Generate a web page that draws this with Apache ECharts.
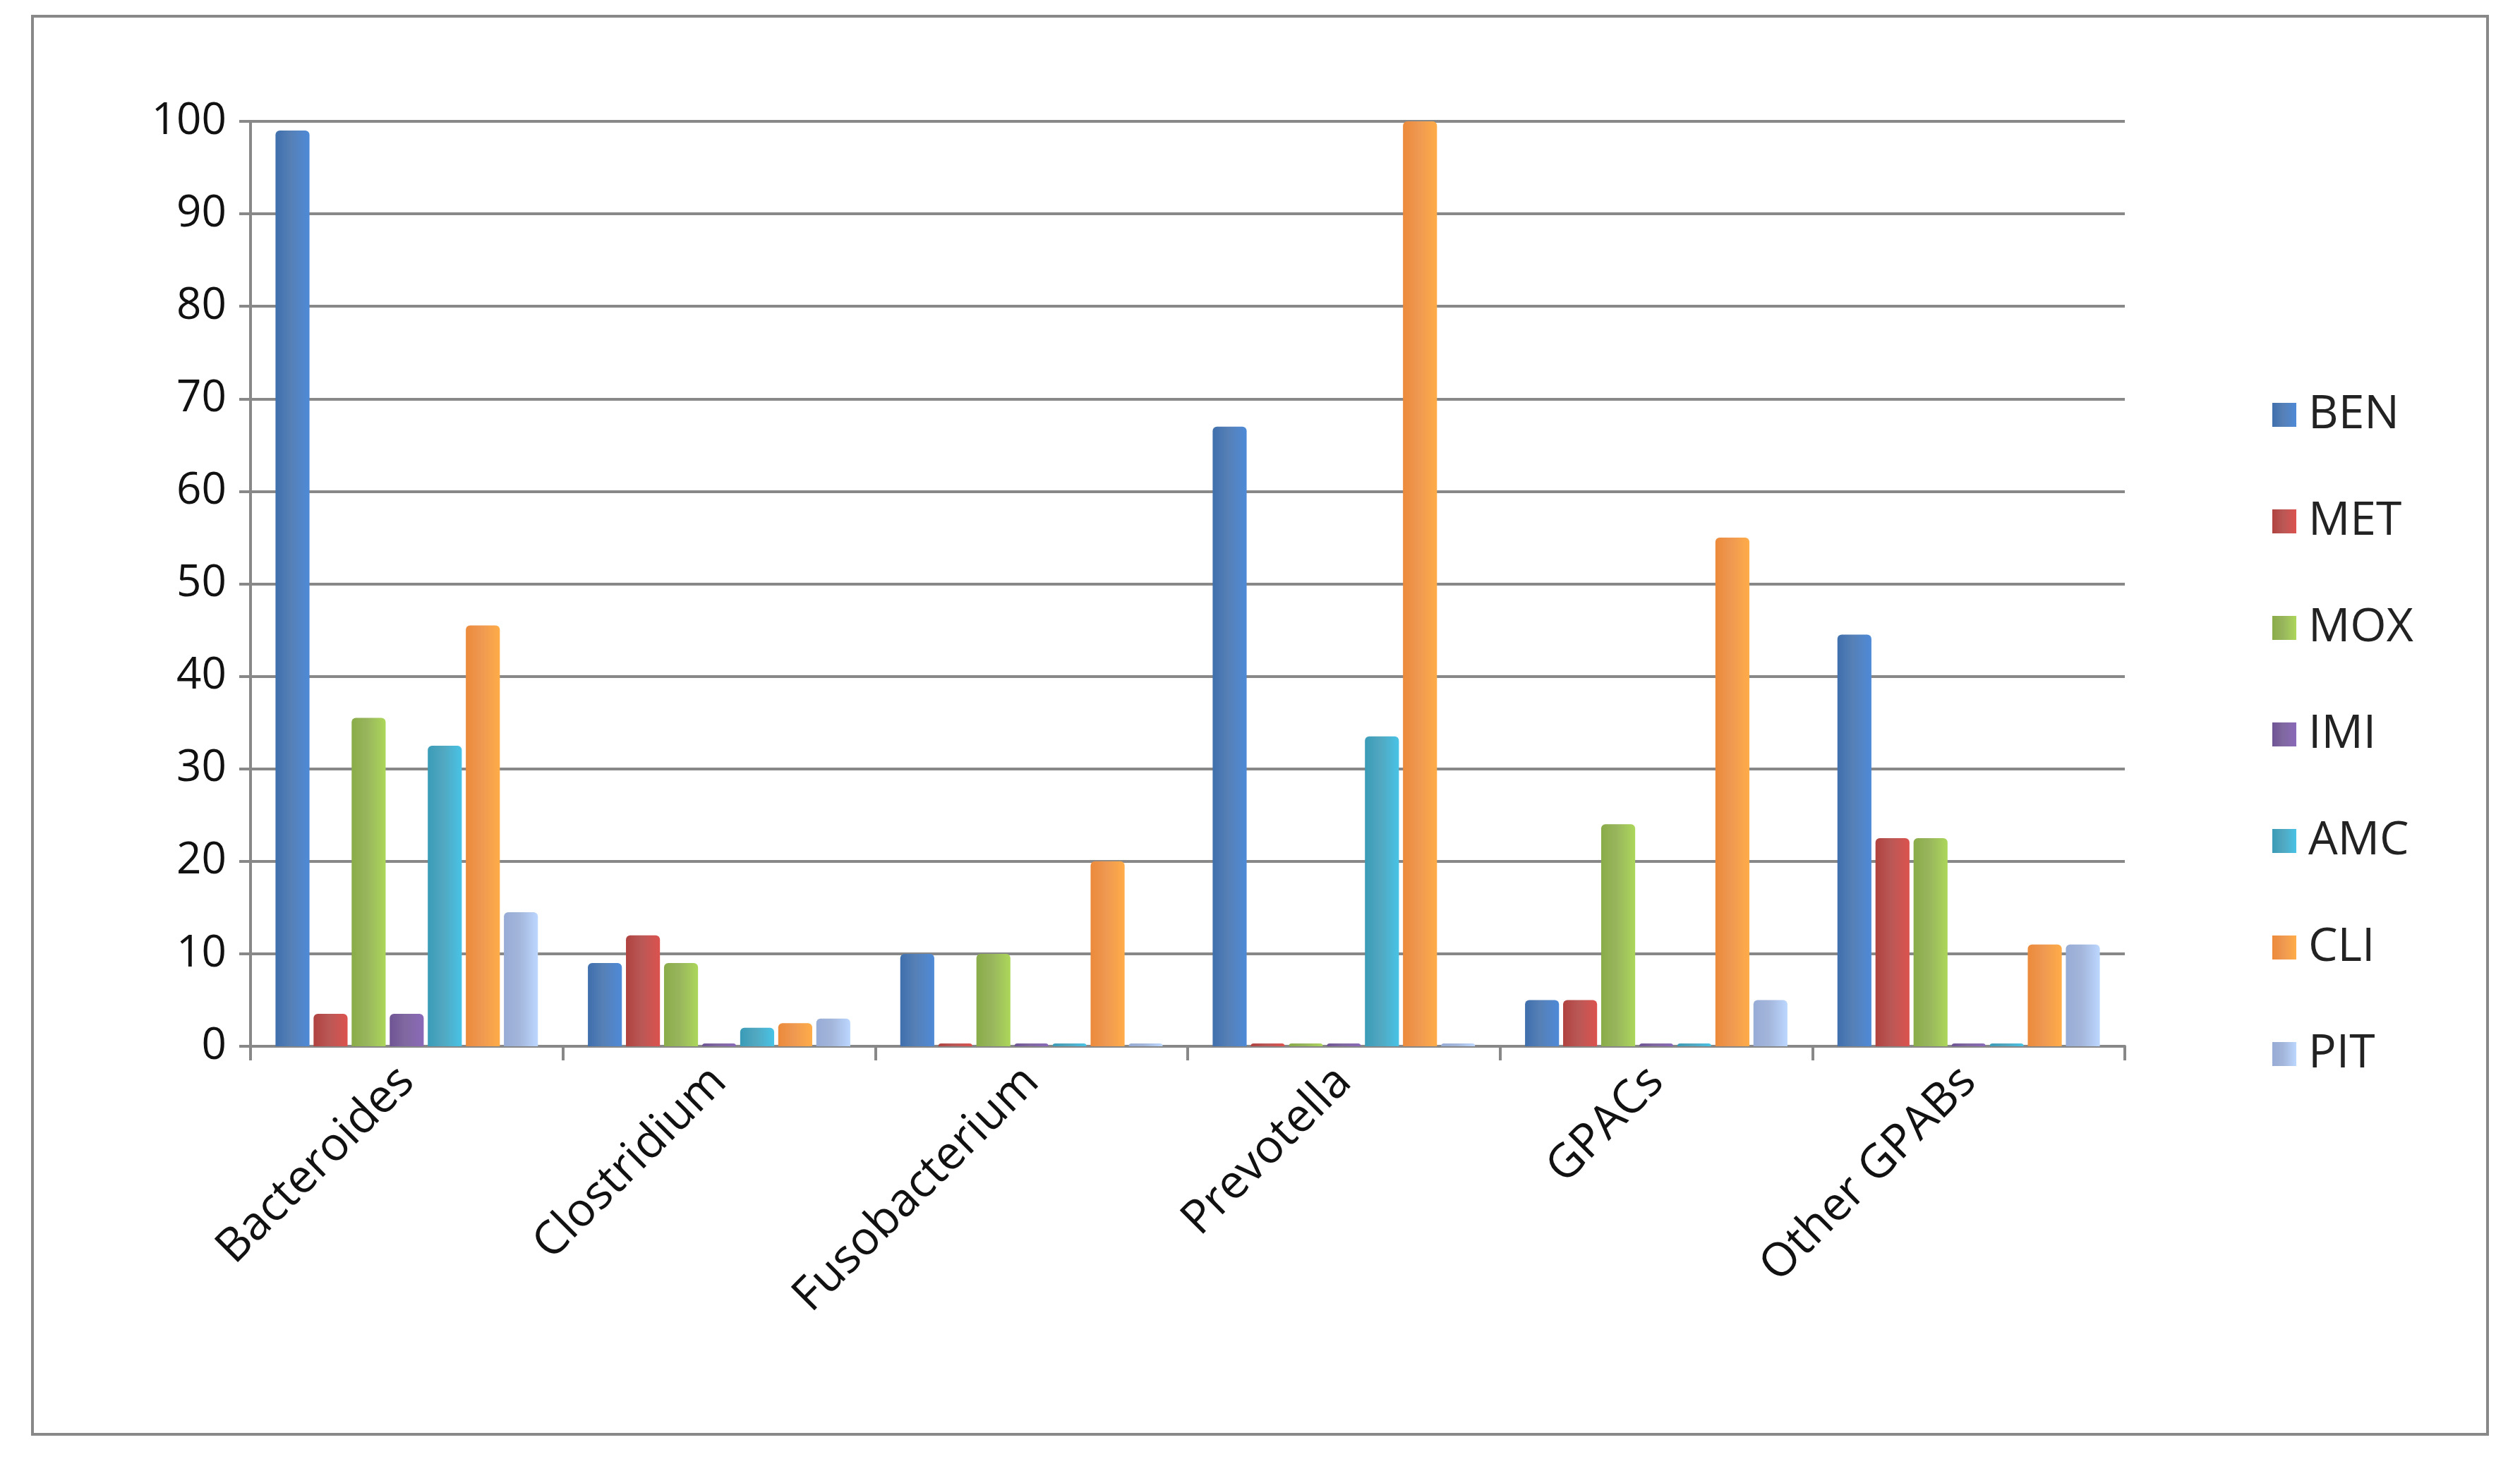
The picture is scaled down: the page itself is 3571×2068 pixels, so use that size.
<!DOCTYPE html>
<html>
<head>
<meta charset="UTF-8">
<script src="https://cdn.jsdelivr.net/npm/echarts@6/dist/echarts.min.js"></script>
<style>
  html, body { margin: 0; padding: 0; background: #fff; }
  #chart { width: 3571px; height: 2068px; }
</style>
</head>
<body>
<div id="chart"></div>
<script>
  // categories and series values
  const genera = ['Bacteroides', 'Clostridium', 'Fusobacterium', 'Prevotella', 'GPACs', 'Other GPABs'];
  const BEN = [99, 9, 10, 67, 5, 44.5];
  const MET = [3.5, 12, 0, 0, 5, 22.5];
  const MOX = [35.5, 9, 10, 0, 24, 22.5];
  const IMI = [3.5, 0, 0, 0, 0, 0];
  const AMC = [32.5, 2, 0, 33.5, 0, 0];
  const CLI = [45.5, 2.5, 20, 100, 55, 11];
  const PIT = [14.5, 3, 0, 0, 5, 11];

  const seriesDefs = [
    ['BEN', BEN, '#3f6fad'],
    ['MET', MET, '#b0423f'],
    ['MOX', MOX, '#8aac48'],
    ['IMI', IMI, '#6f5494'],
    ['AMC', AMC, '#3a9cb8'],
    ['CLI', CLI, '#ec8a3a'],
    ['PIT', PIT, '#97acd6']
  ];

  var myChart = echarts.init(document.getElementById('chart'));

  var option = {
    animation: false,
    graphic: [{
      type: 'rect',
      shape: { x: 46, y: 23, width: 3479, height: 2010 },
      style: { fill: 'none', stroke: '#888', lineWidth: 4 }
    }],
    grid: { left: 355, right: 560, top: 172, bottom: 585 },
    legend: {
      orient: 'vertical',
      left: 3215,
      top: 550,
      itemWidth: 34,
      itemHeight: 34,
      itemGap: 85,
      icon: 'rect',
      textStyle: { fontSize: 66, fontFamily: 'Open Sans', color: '#222', padding: [0, 0, 0, 12] },
      data: seriesDefs.map(d => d[0])
    },
    xAxis: {
      type: 'category',
      data: genera,
      axisLine: { lineStyle: { color: '#888', width: 4 } },
      axisTick: { show: true, length: 20, lineStyle: { color: '#888', width: 4 } },
      axisLabel: {
        rotate: 45,
        fontSize: 66,
        fontFamily: 'Open Sans',
        color: '#111',
        margin: 40
      }
    },
    yAxis: {
      type: 'value',
      min: 0,
      max: 100,
      interval: 10,
      axisLine: { show: true, lineStyle: { color: '#888', width: 4 } },
      axisTick: { show: true, length: 16, lineStyle: { color: '#888', width: 4 } },
      splitLine: { lineStyle: { color: '#888', width: 4 } },
      axisLabel: { fontSize: 62, fontFamily: 'Open Sans', color: '#111', margin: 34 }
    },
    series: seriesDefs.map(([name, data, color]) => ({
      name: name,
      type: 'bar',
      data: data,
      barGap: '12%',
      barCategoryGap: '16%',
      barMinHeight: 4,
      itemStyle: {
        color: new echarts.graphic.LinearGradient(0, 0, 1, 0, [
          { offset: 0, color: color },
          { offset: 0.45, color: echarts.color.lift(color, 0.12) },
          { offset: 1, color: echarts.color.lift(color, -0.25) }
        ]),
        borderRadius: [6, 6, 0, 0]
      }
    }))
  };

  myChart.setOption(option);
</script>
</body>
</html>
